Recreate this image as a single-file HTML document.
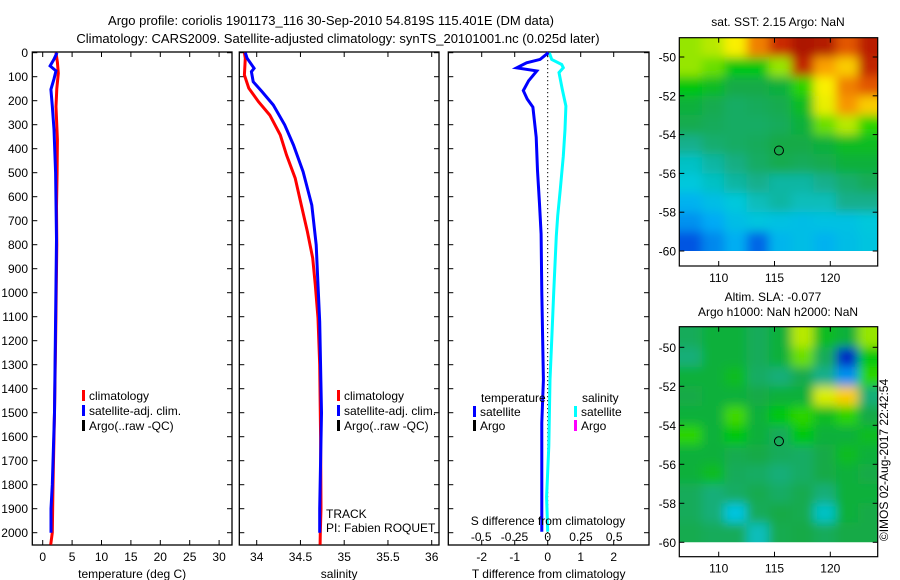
<!DOCTYPE html>
<html><head><meta charset="utf-8"><style>
html,body{margin:0;padding:0;background:#fff;}
svg{display:block;font-family:"Liberation Sans",Arial,sans-serif;}
text{font-size:12px;fill:#000;}
</style></head><body>
<svg id="chart" xmlns="http://www.w3.org/2000/svg" width="900" height="580" viewBox="0 0 900 580">
<text x="331" y="25" text-anchor="middle" style="font-size:13px">Argo profile: coriolis 1901173_116 30-Sep-2010 54.819S 115.401E (DM data)</text>
<text x="338" y="43" text-anchor="middle" style="font-size:13px">Climatology: CARS2009. Satellite-adjusted climatology: synTS_20101001.nc (0.025d later)</text>
<g id="g"></g>
</svg>
<script>
// ---------- data ----------
const tempClimDepth = [0, 40, 86, 150, 225, 363, 500, 640, 800, 1000, 1200, 1500, 1800, 2000, 2050];
const tempClim      = [2.26, 2.5, 2.66, 2.4, 2.26, 2.5, 2.45, 2.35, 2.4, 2.3, 2.2, 2.0, 1.75, 1.64, 1.36];
const tempSatDepth  = [0, 28, 55, 76, 111, 153, 222, 320, 500, 777, 1000, 1500, 1800, 1900, 2000];
const tempSat       = [2.43, 1.9, 1.25, 2.26, 1.9, 1.4, 1.64, 1.93, 2.2, 2.35, 2.25, 2.0, 1.64, 1.41, 1.41];
const salClimDepth  = [0, 23, 93, 148, 204, 260, 343, 426, 523, 635, 746, 856, 968, 1106, 1300, 1600, 1900, 2000, 2050];
const salClim       = [33.86, 33.87, 33.86, 33.91, 34.02, 34.15, 34.27, 34.34, 34.44, 34.51, 34.58, 34.64, 34.67, 34.70, 34.72, 34.73, 34.735, 34.727, 34.725];
const salSatDepth   = [0, 23, 65, 79, 121, 162, 218, 301, 385, 496, 635, 801, 968, 1121, 1500, 1900, 2000];
const salSat        = [33.87, 33.89, 33.97, 33.94, 33.96, 34.06, 34.19, 34.32, 34.42, 34.53, 34.63, 34.68, 34.70, 34.72, 34.74, 34.72, 34.72];
const tDiffDepth    = [0, 28, 42, 63, 76, 117, 158, 193, 227, 352, 491, 630, 755, 1000, 1363, 1543, 1996];
const tDiff         = [0.02, -0.23, -0.64, -0.94, -0.33, -0.58, -0.74, -0.62, -0.45, -0.35, -0.31, -0.25, -0.2, -0.18, -0.13, -0.18, -0.18];
const sDiffDepth    = [0, 28, 49, 63, 83, 153, 222, 320, 431, 569, 680, 764, 1000, 1200, 1363, 1640, 1850, 1996];
const sDiff         = [0.012, 0.03, 0.105, 0.117, 0.085, 0.11, 0.137, 0.13, 0.117, 0.095, 0.075, 0.065, 0.045, 0.03, 0.017, 0.008, -0.008, 0.0];
const depthTicks = [0,100,200,300,400,500,600,700,800,900,1000,1100,1200,1300,1400,1500,1600,1700,1800,1900,2000];
const tempTicks = [0,5,10,15,20,25,30];
const salTicks = [34,34.5,35,35.5,36];
const tDiffTicks = [-2,-1,0,1,2];
const sDiffTicks = [-0.5,-0.25,0,0.25,0.5];
const sDiffTickLabels = ["-0.5","-0.25","0","0.25","0.5"];
const latTicks = [-50,-52,-54,-56,-58,-60];
const lonTicks = [110,115,120];
const argoLon = 115.401, argoLat = -54.819;
// map grids: rows from -49 to -60 (1 deg), cols 2 deg from 106.5
const sstGrid = [
[.60,.62,.66,.78,.88,.95,.93,.82,.92],
[.60,.58,.52,.52,.60,.90,.75,.70,.90],
[.52,.50,.47,.47,.48,.55,.66,.78,.82],
[.48,.46,.44,.45,.46,.50,.65,.76,.70],
[.46,.45,.44,.44,.45,.48,.58,.62,.55],
[.40,.43,.44,.45,.47,.47,.48,.50,.50],
[.35,.38,.41,.44,.46,.45,.46,.48,.48],
[.33,.35,.38,.40,.38,.38,.40,.43,.45],
[.27,.30,.33,.36,.38,.36,.36,.40,.40],
[.22,.25,.30,.32,.31,.30,.31,.31,.33],
[.15,.21,.26,.17,.28,.30,.27,.30,.32]];
const slaGrid = [
[.45,.48,.48,.45,.48,.62,.50,.48,.60],
[.42,.48,.48,.45,.48,.58,.45,.08,.52],
[.48,.48,.50,.44,.42,.46,.40,.22,.55],
[.47,.48,.48,.47,.48,.48,.64,.70,.42],
[.48,.48,.56,.48,.52,.55,.50,.55,.47],
[.55,.48,.52,.48,.45,.52,.48,.48,.50],
[.48,.48,.46,.47,.45,.44,.47,.50,.48],
[.48,.50,.45,.44,.42,.44,.47,.48,.47],
[.45,.42,.44,.46,.44,.46,.42,.48,.48],
[.45,.42,.32,.45,.47,.46,.35,.48,.47],
[.46,.45,.45,.36,.46,.47,.45,.47,.47]];

// ---------- helpers ----------
const NS="http://www.w3.org/2000/svg";
const G=document.getElementById('g');
function mk(tag,attrs,parent){const e=document.createElementNS(NS,tag);for(const k in attrs)e.setAttribute(k,attrs[k]);(parent||G).appendChild(e);return e;}
function txt(s,x,y,anchor,parent){const t=mk('text',{x:x,y:y,'text-anchor':anchor||'start'},parent);t.textContent=s;return t;}
const yTop=52.7, yPx=0.24;
const Y=d=>yTop+d*yPx;
const frameTop=52, frameBot=545;

function panel(name,x0,x1,xs,ticks,labels,xlabel){
  const g=mk('g',{});
  
  
  const f=mk('rect',{x:x0,y:frameTop,width:x1-x0,height:frameBot-frameTop,fill:'none',stroke:'#000','stroke-width':1.3},g);
  
  
  depthTicks.forEach(d=>{
    mk('line',{x1:x0,x2:x0+5,y1:Y(d),y2:Y(d),stroke:'#000'},g);
    mk('line',{x1:x1-5,x2:x1,y1:Y(d),y2:Y(d),stroke:'#000'},g);
  });
  ticks.forEach((v,i)=>{
    const x=xs(v);
    mk('line',{x1:x,x2:x,y1:frameTop,y2:frameTop+5,stroke:'#000'},g);
    mk('line',{x1:x,x2:x,y1:frameBot-5,y2:frameBot,stroke:'#000'},g);
    const t=txt(labels?labels[i]:String(v),x,561,'middle',g);
    
    
  });
  const xl=txt(xlabel,(x0+x1)/2,578,'middle',g);
  
  
  return g;
}
function line(name,depths,vals,xs,color,parent){
  const pts=depths.map((d,i)=>xs(vals[i]).toFixed(1)+','+Y(d).toFixed(1)).join(' ');
  const p=mk('polyline',{points:pts,fill:'none',stroke:color,'stroke-width':3,'stroke-linejoin':'miter'},parent);
  
  
}
function legendEntry(name,color,x,y,label,parent){
  const r=mk('rect',{x:x,y:y-8,width:3,height:11,fill:color},parent);
  
  
  const t=txt(label,x+7,y+2,'start',parent);
  
  
}

// depth labels
depthTicks.forEach(d=>{
  const t=txt(String(d),28,Y(d)+4.5,'end');
  
  
});

// Panel 1 temperature
const xT=v=>42.7+v*5.88;
const p1=panel('temperature-panel',32.3,232,xT,tempTicks,null,'temperature (deg C)');
line('temperature-climatology-line',tempClimDepth,tempClim,xT,'#ff0000',p1);
line('temperature-satellite-line',tempSatDepth,tempSat,xT,'#0000ff',p1);
legendEntry('legend-climatology','#ff0000',82,398,'climatology',p1);
legendEntry('legend-satellite-adj-clim','#0000ff',82,413,'satellite-adj. clim.',p1);
legendEntry('legend-argo','#000000',82,428,'Argo(..raw -QC)',p1);

// Panel 2 salinity
const xS=v=>256.7+(v-34)*87.5;
const p2=panel('salinity-panel',239.3,439,xS,salTicks,null,'salinity');
line('salinity-climatology-line',salClimDepth,salClim,xS,'#ff0000',p2);
line('salinity-satellite-line',salSatDepth,salSat,xS,'#0000ff',p2);
legendEntry('legend-sal-climatology','#ff0000',337,398,'climatology',p2);
legendEntry('legend-sal-satellite-adj-clim','#0000ff',337,413,'satellite-adj. clim.',p2);
legendEntry('legend-sal-argo','#000000',337,428,'Argo(..raw -QC)',p2);
const tr=txt('TRACK',326,518,'start',p2);


const pi=txt('PI: Fabien ROQUET',326,532,'start',p2);



// Panel 3 differences
const xD=v=>547.7+v*33;
const xSD=v=>547.7+v*133;
const p3=panel('difference-panel',448.3,649,xD,tDiffTicks,null,'T difference from climatology');
const zl=mk('line',{x1:xD(0),x2:xD(0),y1:frameTop,y2:frameBot,stroke:'#000','stroke-dasharray':'1.3,2.7'},p3);


line('salinity-difference-line',sDiffDepth,sDiff,xSD,'#00ffff',p3);
line('temperature-difference-line',tDiffDepth,tDiff,xD,'#0000ff',p3);
sDiffTicks.forEach((v,i)=>{
  const t=txt(sDiffTickLabels[i],xSD(v),541,'middle',p3);
  
  
});
const sdl=txt('S difference from climatology',548,525,'middle',p3);


const lt=txt('temperature',481,402,'start',p3);


const ls=txt('salinity',582,402,'start',p3);


legendEntry('legend-t-satellite','#0000ff',473,414,'satellite',p3);
legendEntry('legend-t-argo','#000000',473,428,'Argo',p3);
legendEntry('legend-s-satellite','#00ffff',574,414,'satellite',p3);
legendEntry('legend-s-argo','#ff00ff',574,428,'Argo',p3);

// ---------- maps ----------
const cmapStops=[[0,[0,0,150]],[.12,[0,60,220]],[.25,[0,170,245]],[.33,[0,200,220]],[.4,[20,175,140]],[.47,[20,170,70]],[.53,[0,205,0]],[.6,[150,230,0]],[.66,[250,240,0]],[.75,[250,160,0]],[.85,[215,55,0]],[1,[150,0,0]]];
function cmap(v){
  for(let i=1;i<cmapStops.length;i++){
    if(v<=cmapStops[i][0]){const [a,ca]=cmapStops[i-1],[b,cb]=cmapStops[i];const t=(v-a)/(b-a);
      return 'rgb('+ca.map((c,k)=>Math.round(c+(cb[k]-c)*t)).join(',')+')';}
  }
  return 'rgb(150,0,0)';
}
function mapPanel(name,grid,top,bot,lat50,lat60,clipId){
  const x0=679.3,x1=877.7;
  const lonX=v=>718.7+(v-110)*11.16;
  const latY=v=>lat50+(-50-v)*(lat60-lat50)/10;
  const g=mk('g',{});
  
  
  const defs=mk('defs',{},g);
  const cp=mk('clipPath',{id:clipId},defs);
  mk('rect',{x:x0,y:top,width:x1-x0,height:latY(-60)-top},cp);
  const fid=clipId+'f';
  const flt=mk('filter',{id:fid,filterUnits:'userSpaceOnUse',x:x0-40,y:top-40,width:x1-x0+80,height:bot-top+80},defs);
  mk('feGaussianBlur',{stdDeviation:5},flt);
  const cg=mk('g',{'clip-path':'url(#'+clipId+')'},g);
  const bg=mk('g',{filter:'url(#'+fid+')'},cg);
  grid.forEach((row,r)=>row.forEach((v,c)=>{
    const lonA=106.5+c*2, latA=-49-r;
    const xa=lonX(lonA)-(c===0?15:0), xb=lonX(lonA+2)+(c===row.length-1?15:0);
    const ya=latY(latA)-(r===0?15:0), yb=latY(latA-1)+(r===grid.length-1?15:0);
    const cell=mk('rect',{x:xa,y:ya,width:xb-xa+0.5,height:yb-ya+0.5,fill:cmap(v)},bg);
    
    
  }));
  const fr=mk('rect',{x:x0,y:top,width:x1-x0,height:bot-top,fill:'none',stroke:'#000','stroke-width':1.2},g);
  
  
  latTicks.forEach(v=>{
    const y=latY(v);
    mk('line',{x1:x0,x2:x0+5,y1:y,y2:y,stroke:'#000'},g);
    mk('line',{x1:x1-5,x2:x1,y1:y,y2:y,stroke:'#000'},g);
    const t=txt(String(v),676,y+4.5,'end',g);
    
    
  });
  lonTicks.forEach(v=>{
    const x=lonX(v);
    mk('line',{x1:x,x2:x,y1:top,y2:top+5,stroke:'#000'},g);
    mk('line',{x1:x,x2:x,y1:bot-5,y2:bot,stroke:'#000'},g);
    const t=txt(String(v),x,bot+16,'middle',g);
    
    
  });
  const c=mk('circle',{cx:lonX(argoLon),cy:latY(argoLat),r:4.5,fill:'none',stroke:'#000','stroke-width':1},g);
  
  
}
mapPanel('sst-map',sstGrid,37.7,266,57,251,'clipSST');
mapPanel('sla-map',slaGrid,326.7,556.7,347.3,542.3,'clipSLA');
const t1=txt('sat. SST: 2.15 Argo: NaN',778,26,'middle');


const t2=txt('Altim. SLA: -0.077',773,301,'middle');


const t3=txt('Argo h1000: NaN h2000: NaN',778,316,'middle');


const cr=txt('©IMOS 02-Aug-2017 22:42:54',0,0,'middle');
cr.setAttribute('transform','translate(888,460) rotate(-90)');


</script>
</body></html>
